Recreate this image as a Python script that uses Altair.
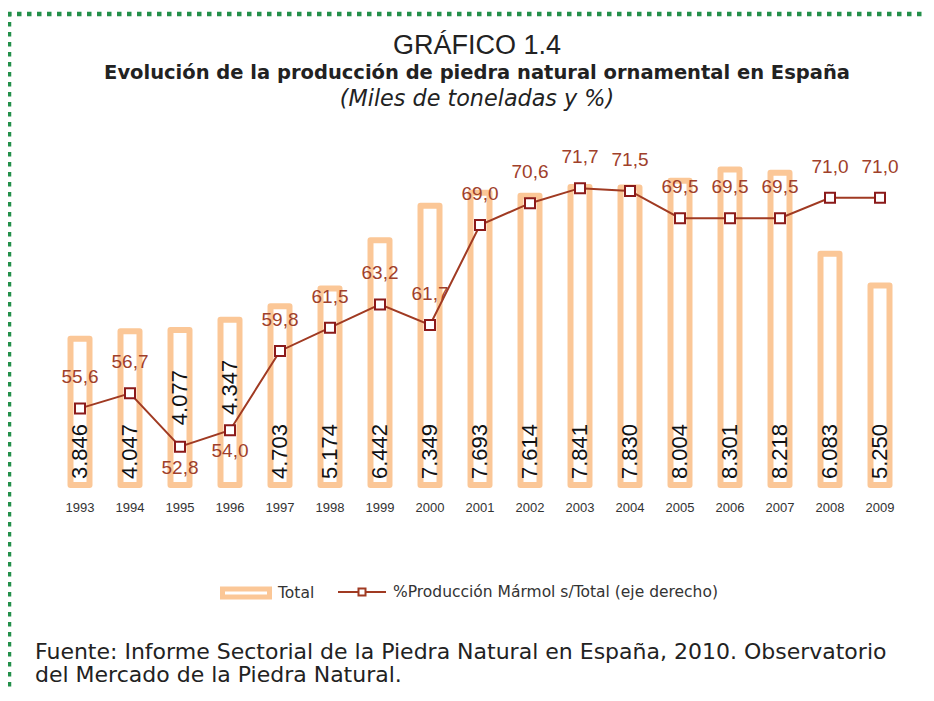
import altair as alt
import pandas as pd

# ---------------- data ----------------
years = [str(y) for y in range(1993, 2010)]
total = [3846, 4047, 4077, 4347, 4703, 5174, 6442, 7349, 7693, 7614,
         7841, 7830, 8004, 8301, 8218, 6083, 5250]
pct = [55.6, 56.7, 52.8, 54.0, 59.8, 61.5, 63.2, 61.7, 69.0, 70.6,
       71.7, 71.5, 69.5, 69.5, 69.5, 71.0, 71.0]
serie_bar = "Total"
serie_line = "%Producción Mármol s/Total (eje derecho)"

title_1 = "GRÁFICO 1.4"
title_2 = "Evolución de la producción de piedra natural ornamental en España"
title_3 = "(Miles de toneladas y %)"
source_1 = "Fuente: Informe Sectorial de la Piedra Natural en España, 2010. Observatorio"
source_2 = "del Mercado de la Piedra Natural."

# ---------------- styles ----------------
ORANGE = "#FBC797"
LINE = "#A03A22"
MARK = "#8B1A1A"
LABEL_RED = "#A0402A"
GREEN = "#23904A"
FONT = "Liberation Sans"
WIDE = "DejaVu Sans"
W, H = 850, 342

df = pd.DataFrame({"year": years, "total": total, "pct": pct,
                   "sb": serie_bar, "sl": serie_line})

x_enc = alt.X("year:N", sort=years,
              scale=alt.Scale(paddingInner=0, paddingOuter=0),
              axis=alt.Axis(title=None, ticks=False, domain=False, labelAngle=0,
                            labelFontSize=13, labelColor="#333333", labelFont=FONT,
                            labelPadding=16, grid=False))

base = alt.Chart(df).encode(x=x_enc)

y_bar = alt.Y("total:Q", scale=alt.Scale(domain=[0, 9000], nice=False, zero=True), axis=None)
y_pct = alt.Y("pct:Q", scale=alt.Scale(domain=[50, 75], nice=False, zero=False), axis=None)

bars = base.mark_bar(size=19, fill="white", strokeWidth=6, strokeJoin="round").encode(
    y=y_bar,
    stroke=alt.Stroke("sb:N", scale=alt.Scale(domain=[serie_bar], range=[ORANGE]),
                      legend=alt.Legend(title=None, orient="none", legendX=165, legendY=424,
                                        symbolType="M-1,-0.17H1V0.17H-1Z", symbolSize=2209,
                                        symbolStrokeWidth=5, symbolFillColor="white",
                                        symbolStrokeColor=ORANGE, labelFontSize=15.5,
                                        labelColor="#333333", labelFont=WIDE, padding=0,
                                        labelOffset=6, labelLimit=500)),
)

bar_fmt = "replace(format(datum.total, ','), ',', '.')"
# labels sitting at the bottom of the bar (line passes above them)
bar_labels_low = base.mark_text(angle=270, align="left", baseline="middle", dx=6,
                                fontSize=22, font=FONT, color="#111111").transform_filter(
    "datum.pct >= 55").transform_calculate(lab=bar_fmt).encode(
    y=alt.YDatum(0), text="lab:N")
# labels hanging from the top of the bar (line passes below them)
bar_labels_high = base.mark_text(angle=270, align="right", baseline="middle", dx=-40,
                                 fontSize=22, font=FONT, color="#111111").transform_filter(
    "datum.pct < 55").transform_calculate(lab=bar_fmt).encode(
    y="total:Q", text="lab:N")

bar_layer = alt.layer(bars, bar_labels_low, bar_labels_high)

line = base.mark_line(strokeWidth=2).encode(
    y=y_pct,
    stroke=alt.Stroke("sl:N", scale=alt.Scale(domain=[serie_line], range=[LINE]),
                      legend=alt.Legend(title=None, orient="none", legendX=282, legendY=424,
                                        symbolType="M-1,0H-0.146M0.146,0H1M-0.146,-0.146H0.146V0.146H-0.146Z",
                                        symbolSize=2304, symbolStrokeWidth=2,
                                        symbolFillColor="white", symbolStrokeColor=MARK,
                                        labelFontSize=15.5, labelColor="#333333", labelFont=WIDE,
                                        padding=0, labelOffset=6, labelLimit=500)),
)
points = base.mark_point(shape="square", filled=True, fill="white", stroke=MARK,
                         strokeWidth=2, size=100, opacity=1).encode(y=y_pct)

pct_fmt = "replace(format(datum.pct, '.1f'), '.', ',')"
labels_up = base.mark_text(dy=-31, fontSize=19, font=FONT, color=LABEL_RED).transform_filter(
    "datum.pct >= 55").transform_calculate(lab=pct_fmt).encode(y=y_pct, text="lab:N")
labels_dn = base.mark_text(dy=21, fontSize=19, font=FONT, color=LABEL_RED).transform_filter(
    "datum.pct < 55").transform_calculate(lab=pct_fmt).encode(y=y_pct, text="lab:N")

line_layer = alt.layer(line, points, labels_up, labels_dn)


def note(text, x, y, **kw):
    return alt.Chart(pd.DataFrame({"t": [text]})).mark_text(**kw).encode(
        x=alt.value(x), y=alt.value(y), text="t:N")


one = pd.DataFrame({"k": [0]})
border_top = alt.Chart(one).mark_rule(color=GREEN, strokeWidth=4.5, strokeDash=[4.5, 5.5],
                                      strokeCap="butt").encode(
    x=alt.value(-48), x2=alt.value(880), y=alt.value(-129))
border_left = alt.Chart(one).mark_rule(color=GREEN, strokeWidth=4.5, strokeDash=[4.5, 5.5],
                                       strokeCap="butt").encode(
    x=alt.value(-46), y=alt.value(-131), y2=alt.value(570))

notes = [
    note(title_1, 422, -97, font=FONT, fontSize=27, color="#222222", align="center",
         baseline="middle"),
    note(title_2, 422, -70, font=WIDE, fontSize=19.5, fontWeight="bold", color="#222222",
         align="center", baseline="middle"),
    note(title_3, 422, -44, font=WIDE, fontSize=22.3, fontStyle="italic", color="#222222",
         align="center", baseline="middle"),
    note(source_1, -20, 509, font=WIDE, fontSize=22, color="#222222", align="left",
         baseline="middle"),
    note(source_2, -20, 532, font=WIDE, fontSize=22, color="#222222", align="left",
         baseline="middle"),
    border_top, border_left,
]

chart = alt.layer(bar_layer, line_layer, *notes).resolve_scale(
    y="independent", stroke="independent"
).resolve_legend(stroke="independent").properties(
    width=W, height=H,
    autosize=alt.AutoSizeParams(type="none"),
    padding={"left": 47, "top": 135, "right": 20, "bottom": 207},
).configure(font=FONT).configure_view(stroke=None, strokeWidth=0)

chart.save("out.html", embed_options={"renderer": "svg", "actions": False})
